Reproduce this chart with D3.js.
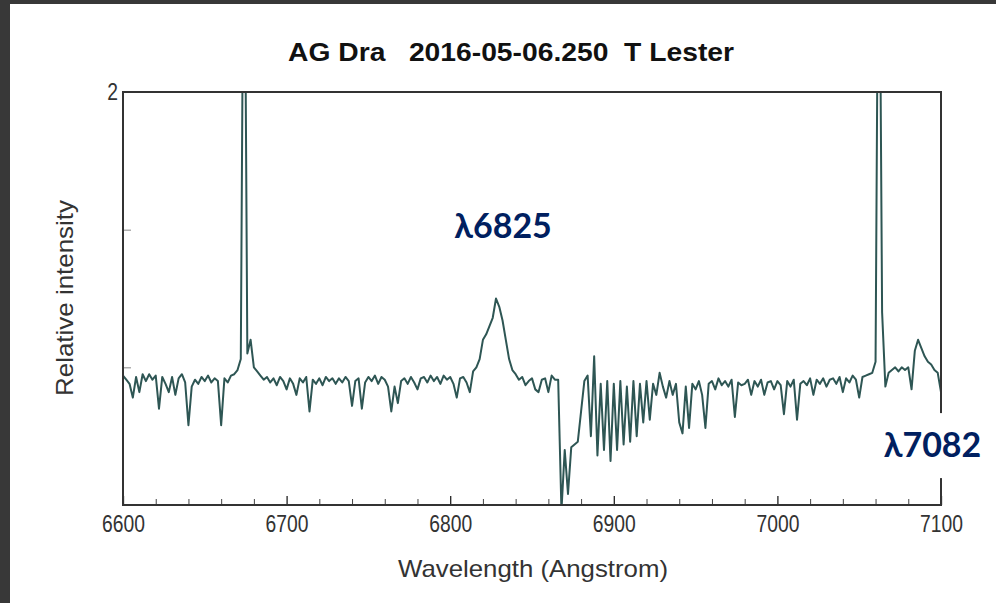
<!DOCTYPE html>
<html>
<head>
<meta charset="utf-8">
<script src="https://cdn.jsdelivr.net/npm/d3@7"></script>
<style>
  html, body { margin: 0; padding: 0; background: #fff; }
  svg { display: block; }
</style>
</head>
<body>
<div id="chart"></div>
<script>
const width = 996;
const height = 603;
const margin = { top: 92, right: 54, bottom: 98, left: 123 };

const wavelength = [
  6600, 6602, 6604, 6606, 6608, 6610, 6612, 6614, 6616, 6618,
  6620, 6622, 6624, 6626, 6628, 6630, 6632, 6634, 6636, 6638,
  6640, 6642, 6644, 6646, 6648, 6650, 6652, 6654, 6656, 6658,
  6660, 6662, 6664, 6666, 6668, 6670, 6672, 6674, 6676, 6678,
  6680, 6682, 6684, 6686, 6688, 6690, 6692, 6694, 6696, 6698,
  6700, 6702, 6704, 6706, 6708, 6710, 6712, 6714, 6716, 6718,
  6720, 6722, 6724, 6726, 6728, 6730, 6732, 6734, 6736, 6738,
  6740, 6742, 6744, 6746, 6748, 6750, 6752, 6754, 6756, 6758,
  6760, 6762, 6764, 6766, 6768, 6770, 6772, 6774, 6776, 6778,
  6780, 6782, 6784, 6786, 6788, 6790, 6792, 6794, 6796, 6798,
  6800, 6802, 6804, 6806, 6808, 6810, 6812, 6814, 6816, 6818,
  6820, 6822, 6824, 6826, 6828, 6830, 6832, 6834, 6836, 6838,
  6840, 6842, 6844, 6846, 6848, 6850, 6852, 6854, 6856, 6858,
  6860, 6862, 6864, 6866, 6868, 6870, 6872, 6874, 6876, 6878,
  6880, 6882, 6884, 6886, 6888, 6890, 6892, 6894, 6896, 6898,
  6900, 6902, 6904, 6906, 6908, 6910, 6912, 6914, 6916, 6918,
  6920, 6922, 6924, 6926, 6928, 6930, 6932, 6934, 6936, 6938,
  6940, 6942, 6944, 6946, 6948, 6950, 6952, 6954, 6956, 6958,
  6960, 6962, 6964, 6966, 6968, 6970, 6972, 6974, 6976, 6978,
  6980, 6982, 6984, 6986, 6988, 6990, 6992, 6994, 6996, 6998,
  7000, 7002, 7004, 7006, 7008, 7010, 7012, 7014, 7016, 7018,
  7020, 7022, 7024, 7026, 7028, 7030, 7032, 7034, 7036, 7038,
  7040, 7042, 7044, 7046, 7048, 7050, 7052, 7054, 7056, 7058,
  7060, 7062, 7064, 7066, 7068, 7070, 7072, 7074, 7076, 7078,
  7080, 7082, 7084, 7086, 7088, 7090, 7092, 7094, 7096, 7098,
  7100
];
const intensity = [
  0.97, 0.955, 0.94, 0.89, 0.965, 0.91, 0.975, 0.95, 0.975, 0.955,
  0.97, 0.85, 0.965, 0.94, 0.91, 0.965, 0.90, 0.96, 0.975, 0.945,
  0.79, 0.93, 0.955, 0.94, 0.965, 0.95, 0.97, 0.945, 0.96, 0.95,
  0.79, 0.96, 0.945, 0.97, 0.975, 0.99, 1.03, 3.0, 1.05, 1.10,
  1.00, 0.985, 0.97, 0.955, 0.965, 0.945, 0.96, 0.935, 0.965, 0.95,
  0.92, 0.96, 0.94, 0.90, 0.96, 0.945, 0.965, 0.84, 0.955, 0.94,
  0.96, 0.935, 0.965, 0.95, 0.96, 0.94, 0.96, 0.945, 0.965, 0.95,
  0.86, 0.95, 0.96, 0.85, 0.945, 0.965, 0.95, 0.97, 0.94, 0.965,
  0.955, 0.93, 0.84, 0.93, 0.87, 0.95, 0.96, 0.94, 0.965, 0.945,
  0.92, 0.96, 0.965, 0.945, 0.97, 0.95, 0.965, 0.94, 0.97, 0.955,
  0.965, 0.94, 0.89, 0.96, 0.965, 0.945, 0.91, 0.985, 1.00, 1.03,
  1.10, 1.12, 1.15, 1.18, 1.25, 1.22, 1.17, 1.10, 1.03, 0.99,
  0.975, 0.955, 0.965, 0.935, 0.95, 0.96, 0.92, 0.91, 0.955, 0.96,
  0.91, 0.97, 0.955, 0.955, 0.48, 0.70, 0.54, 0.71, 0.72, 0.73,
  0.84, 0.95, 0.97, 0.75, 1.04, 0.68, 0.94, 0.70, 0.95, 0.66,
  0.94, 0.70, 0.95, 0.72, 0.93, 0.73, 0.95, 0.75, 0.94, 0.80,
  0.95, 0.81, 0.94, 0.90, 0.98, 0.93, 0.89, 0.95, 0.90, 0.94,
  0.80, 0.76, 0.93, 0.78, 0.94, 0.92, 0.95, 0.90, 0.78, 0.94,
  0.95, 0.92, 0.96, 0.935, 0.95, 0.93, 0.955, 0.82, 0.945, 0.935,
  0.94, 0.955, 0.90, 0.95, 0.93, 0.955, 0.90, 0.945, 0.95, 0.92,
  0.95, 0.935, 0.83, 0.95, 0.93, 0.955, 0.81, 0.94, 0.95, 0.935,
  0.96, 0.90, 0.955, 0.94, 0.96, 0.93, 0.955, 0.96, 0.94, 0.965,
  0.91, 0.96, 0.945, 0.97, 0.955, 0.89, 0.965, 0.97, 0.975, 0.98,
  1.02, 3.0, 1.2, 0.93, 0.98, 0.99, 1.00, 0.985, 1.00, 0.99,
  1.00, 0.92, 1.06, 1.10, 1.07, 1.04, 1.02, 1.01, 0.99, 0.98,
  0.91
];

const majorTicks = [6600, 6700, 6800, 6900, 7000, 7100];
const minorTicks = [6620, 6640, 6660, 6680, 6720, 6740, 6760, 6780,
  6820, 6840, 6860, 6880, 6920, 6940, 6960, 6980,
  7020, 7040, 7060, 7080];
const yTicks = [1, 1.5, 2];
const yLabels = ['2'];

const notes = [
  { text: 'λ6825', wl: 6802.5, y: 1.47, box: false },
  { text: 'λ7082', wl: 7065, y: 0.674, box: true }
];

const titleText = 'AG Dra   2016-05-06.250  T Lester';

const x = d3.scaleLinear().domain([6600, 7100]).range([margin.left, width - margin.right - 1]);
const y = d3.scaleLinear().domain([0.5, 2]).range([height - margin.bottom, margin.top]);

const svg = d3.select('#chart')
  .append('svg')
  .attr('width', width)
  .attr('height', height);

svg.append('rect').attr('width', width).attr('height', height).attr('fill', '#fff');

// dark frame of the screenshot
svg.append('rect').attr('x', 0).attr('y', 0).attr('width', 10).attr('height', height).attr('fill', '#383838');
svg.append('rect').attr('x', 0).attr('y', 0).attr('width', width).attr('height', 4).attr('fill', '#383838');

svg.append('defs')
  .append('clipPath')
  .attr('id', 'clip')
  .append('rect')
  .attr('x', x.range()[0])
  .attr('y', y.range()[1])
  .attr('width', x.range()[1] - x.range()[0])
  .attr('height', y.range()[0] - y.range()[1]);

const data = wavelength.map((w, i) => ({ w: w, v: intensity[i] }));

const line = d3.line()
  .x(d => x(d.w))
  .y(d => y(d.v));

svg.append('g')
  .attr('clip-path', 'url(#clip)')
  .append('path')
  .datum(data)
  .attr('d', line)
  .attr('fill', 'none')
  .attr('stroke', '#2e5654')
  .attr('stroke-width', 2)
  .attr('stroke-linejoin', 'round');

const axisFont = '"Liberation Sans", Arial, sans-serif';
const squeeze = 'scale(0.84,1)';

// x axis - minor ticks
svg.append('g')
  .attr('transform', 'translate(0,' + y.range()[0] + ')')
  .call(d3.axisBottom(x).tickValues(minorTicks).tickSize(-6).tickFormat(''))
  .call(g => g.select('.domain').remove())
  .call(g => g.selectAll('line').attr('stroke', '#444'));

// x axis - major ticks + labels
svg.append('g')
  .attr('transform', 'translate(0,' + y.range()[0] + ')')
  .call(d3.axisBottom(x).tickValues(majorTicks).tickSizeInner(-9).tickSizeOuter(0).tickPadding(11).tickFormat(d3.format('d')))
  .call(g => g.select('.domain').remove())
  .call(g => g.selectAll('line').attr('stroke', '#222').attr('stroke-width', 1.3))
  .call(g => g.selectAll('text')
    .attr('font-family', axisFont)
    .attr('font-size', 23)
    .attr('fill', '#333')
    .attr('transform', squeeze));

// y axis
svg.append('g')
  .attr('transform', 'translate(' + x.range()[0] + ',0)')
  .call(d3.axisLeft(y).tickValues(yTicks).tickSizeInner(-8).tickSizeOuter(0).tickPadding(6)
    .tickFormat(d => yLabels.includes(String(d)) ? String(d) : ''))
  .call(g => g.select('.domain').remove())
  .call(g => g.selectAll('line').attr('stroke', '#888'))
  .call(g => g.selectAll('text')
    .attr('font-family', axisFont)
    .attr('font-size', 23)
    .attr('fill', '#333')
    .attr('transform', squeeze));

// plot frame
svg.append('rect')
  .attr('x', x.range()[0])
  .attr('y', y.range()[1])
  .attr('width', x.range()[1] - x.range()[0])
  .attr('height', y.range()[0] - y.range()[1])
  .attr('fill', 'none')
  .attr('stroke', '#333')
  .attr('stroke-width', 2);

// title
svg.append('text')
  .attr('x', 511)
  .attr('y', 61)
  .attr('text-anchor', 'middle')
  .attr('font-family', axisFont)
  .attr('font-weight', 'bold')
  .attr('font-size', 25)
  .attr('fill', '#111')
  .attr('textLength', 446)
  .attr('lengthAdjust', 'spacingAndGlyphs')
  .style('white-space', 'pre')
  .text(titleText);

// axis titles
svg.append('text')
  .attr('x', 533)
  .attr('y', 577)
  .attr('text-anchor', 'middle')
  .attr('font-family', axisFont)
  .attr('font-size', 24)
  .attr('fill', '#333')
  .attr('textLength', 270)
  .attr('lengthAdjust', 'spacingAndGlyphs')
  .text('Wavelength (Angstrom)');

svg.append('text')
  .attr('transform', 'translate(73,298) rotate(-90)')
  .attr('text-anchor', 'middle')
  .attr('font-family', axisFont)
  .attr('font-size', 24)
  .attr('fill', '#333')
  .attr('textLength', 196)
  .attr('lengthAdjust', 'spacingAndGlyphs')
  .text('Relative intensity');

// annotations
notes.forEach(n => {
  if (n.box) {
    svg.append('rect')
      .attr('x', x(n.wl) - 8)
      .attr('y', y(n.y) - 44)
      .attr('width', 108)
      .attr('height', 65)
      .attr('fill', '#fff');
  }
  svg.append('text')
    .attr('x', x(n.wl))
    .attr('y', y(n.y))
    .attr('font-family', 'Lato, "Open Sans", sans-serif')
    .attr('font-weight', 'bold')
    .attr('font-size', 34)
    .attr('fill', '#002060')
    .text(n.text);
});
</script>
</body>
</html>
